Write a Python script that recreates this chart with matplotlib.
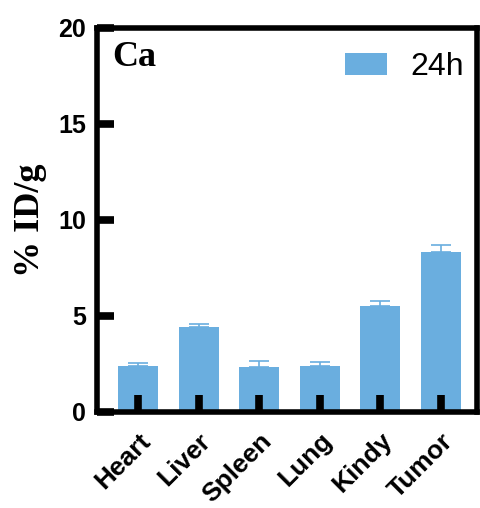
import matplotlib.pyplot as plt
from matplotlib.transforms import ScaledTranslation

organs = ['Heart', 'Liver', 'Spleen', 'Lung', 'Kindy', 'Tumor']
uptake_24h = [2.40, 4.43, 2.34, 2.40, 5.54, 8.31]
err_24h = [0.17, 0.15, 0.33, 0.18, 0.22, 0.37]

bar_color = '#6aaedf'

fig = plt.figure(figsize=(4.8, 5.08), dpi=100)
ax = fig.add_axes([0.202, 0.189, 0.792, 0.756])
ax.set_axisbelow(False)

x = range(len(organs))
ax.bar(x, uptake_24h, width=0.66, color=bar_color, label='24h', zorder=2)
ax.errorbar(x, uptake_24h, yerr=[[0] * len(err_24h), err_24h], fmt='none',
            ecolor=bar_color, elinewidth=1.2, capsize=7.5, capthick=1.2, zorder=1)

ax.set_xlim(-0.68, 5.6)
ax.set_ylim(0, 20)
ax.set_yticks([0, 5, 10, 15, 20])
ax.set_xticks(list(x))
ax.set_xticklabels(organs, rotation=45, ha='right', rotation_mode='anchor',
                   fontsize=19, fontweight='bold', family='Liberation Sans')
# nudge the slanted labels a little left so they end just past the tick
shift = ScaledTranslation(-4 / 72, -1 / 72, fig.dpi_scale_trans)
for lab in ax.get_xticklabels():
    lab.set_transform(lab.get_transform() + shift)
for lab in ax.get_yticklabels():
    lab.set_fontsize(18)
    lab.set_fontweight('bold')
    lab.set_family('Liberation Sans')

for side in ['left', 'right', 'top', 'bottom']:
    ax.spines[side].set_linewidth(4)
ax.tick_params(axis='both', direction='in', length=12, width=5.5, color='black')
ax.tick_params(axis='y', pad=8)
ax.tick_params(axis='x', pad=12)

ax.set_ylabel('% ID/g', fontsize=26, fontweight='bold', family='Liberation Serif', labelpad=8)
ax.text(0.04, 0.965, 'Ca', transform=ax.transAxes, ha='left', va='top',
        fontsize=26, fontweight='bold', family='Liberation Serif')

ax.legend(loc='upper right', bbox_to_anchor=(1.04, 1.012), frameon=False,
          prop={'family': 'Liberation Sans', 'size': 23},
          handlelength=1.3, handleheight=0.65, handletextpad=0.72)

fig.savefig('out.png', dpi=100)
